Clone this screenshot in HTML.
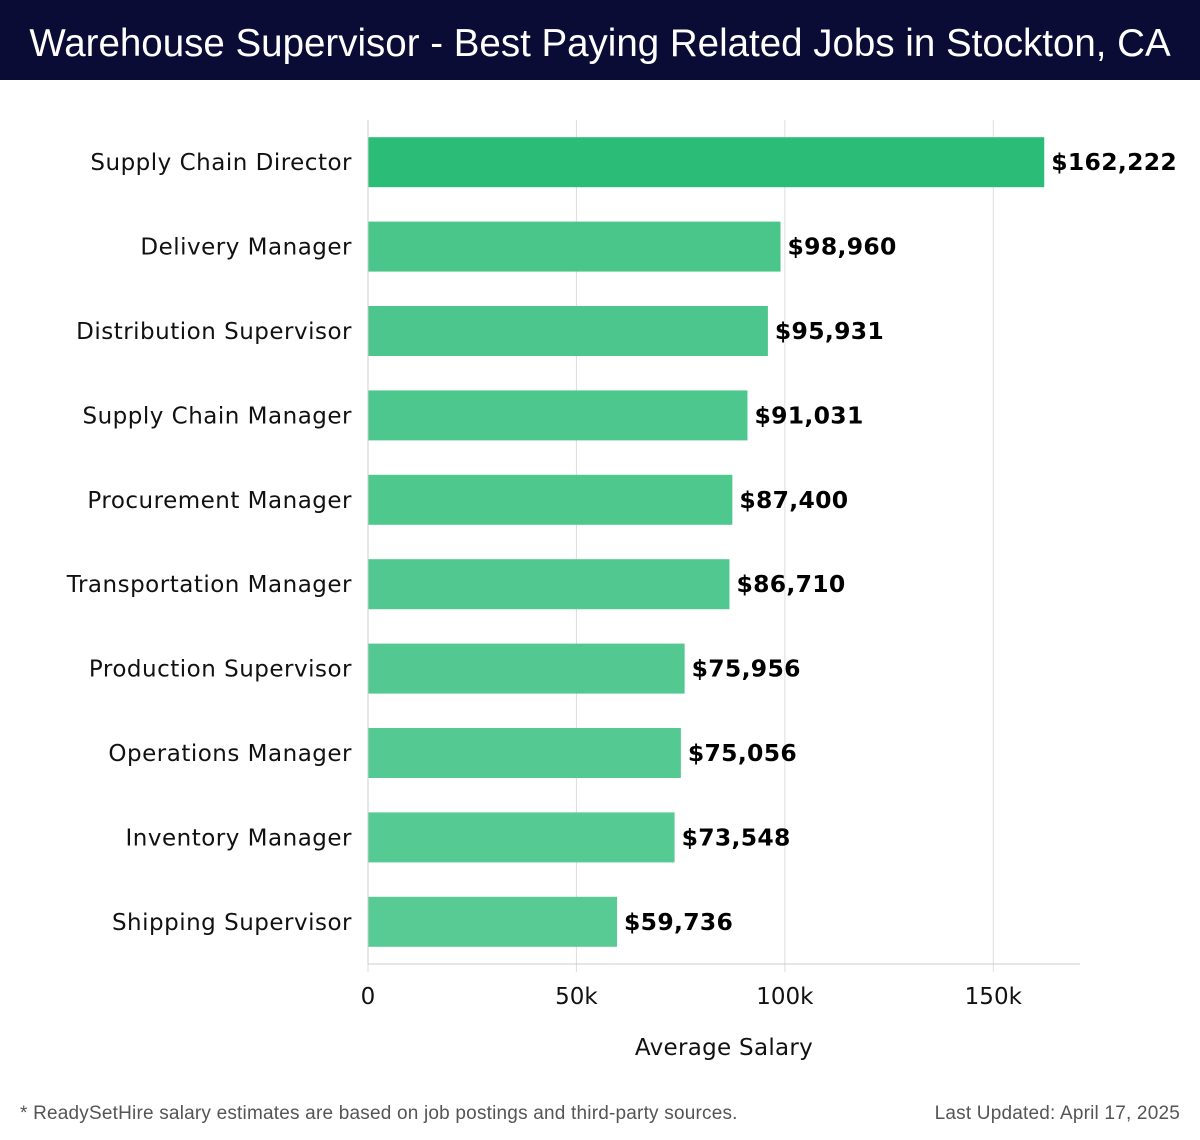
<!DOCTYPE html>
<html><head><meta charset="utf-8"><style>
body{margin:0;width:1200px;height:1140px;background:#fff;overflow:hidden;font-family:"Liberation Sans","DejaVu Sans",sans-serif}
#hdr{position:absolute;left:0;top:0;width:1200px;height:80px;background:#0b0c35;color:#fff;font-size:38.5px;line-height:88px;text-align:center;font-family:"Liberation Sans","DejaVu Sans",sans-serif;white-space:nowrap;letter-spacing:0px}
svg{position:absolute;left:0;top:0}
</style></head><body>
<svg id="c" width="1200" height="1140"></svg>
<div id="hdr">Warehouse Supervisor - Best Paying Related Jobs in Stockton, CA</div>
<script>
const categories=["Supply Chain Director","Delivery Manager","Distribution Supervisor","Supply Chain Manager","Procurement Manager","Transportation Manager","Production Supervisor","Operations Manager","Inventory Manager","Shipping Supervisor"];
const salaries=[162222,98960,95931,91031,87400,86710,75956,75056,73548,59736];
const valueLabels=["$162,222","$98,960","$95,931","$91,031","$87,400","$86,710","$75,956","$75,056","$73,548","$59,736"];
const tickValues=[0,50000,100000,150000];
const tickLabels=["0","50k","100k","150k"];
const colors=["#2bbd77","#4bc68b","#4cc68c","#4dc78d","#4fc88e","#51c88f","#53c991","#54ca92","#56ca93","#58cb95"];

const NS="http://www.w3.org/2000/svg";
const svgEl=document.getElementById('c');
const X0=368,XMAX=170800,X1=1080,PTOP=120,PBOT=964;
const band=(PBOT-PTOP)/categories.length;
const xs=v=>X0+v/XMAX*(X1-X0);
const ys=i=>PTOP+i*band+band/2;
function mk(t,a,txt){const e=document.createElementNS(NS,t);for(const k in a)e.setAttribute(k,a[k]);if(txt!=null)e.textContent=txt;svgEl.appendChild(e);return e;}
const F='"DejaVu Sans","Liberation Sans",sans-serif';
tickValues.forEach((t,i)=>{
  const g=mk('line',{x1:xs(t),x2:xs(t),y1:PTOP,y2:972,stroke:'#ddd','stroke-width':1});
  
  
  const tl=mk('text',{x:xs(t),y:1004,'text-anchor':'middle','font-size':23,fill:'#111','font-family':F},tickLabels[i]);
  
  
});
categories.forEach((c,i)=>{
  const r=mk('rect',{x:X0,y:ys(i)-25,width:xs(salaries[i])-X0,height:50,fill:colors[i]});
  
  
  const l=mk('text',{x:352,y:ys(i)+8,'text-anchor':'end','font-size':23,'letter-spacing':0.5,fill:'#111','font-family':F},c);
  
  
  const v=mk('text',{x:xs(salaries[i])+7,y:ys(i)+8,'font-size':23.5,'letter-spacing':0.3,'font-weight':'bold',fill:'#000','font-family':F},valueLabels[i]);
  
  
});
const ax=mk('line',{x1:X0,x2:X1,y1:PBOT,y2:PBOT,stroke:'#ccc','stroke-width':1});


const ay=mk('line',{x1:X0,x2:X0,y1:PTOP,y2:PBOT,stroke:'#ccc','stroke-width':1});


const at=mk('text',{x:724,y:1055,'text-anchor':'middle','font-size':23,'letter-spacing':0.3,fill:'#111','font-family':F},'Average Salary');


const fn=mk('text',{x:20,y:1119,'font-size':19,'letter-spacing':0.2,fill:'#555','font-family':'"Liberation Sans",sans-serif'},'* ReadySetHire salary estimates are based on job postings and third-party sources.');


const up=mk('text',{x:1180,y:1119,'text-anchor':'end','font-size':19,'letter-spacing':0.2,fill:'#555','font-family':'"Liberation Sans",sans-serif'},'Last Updated: April 17, 2025');


</script>
</body></html>
